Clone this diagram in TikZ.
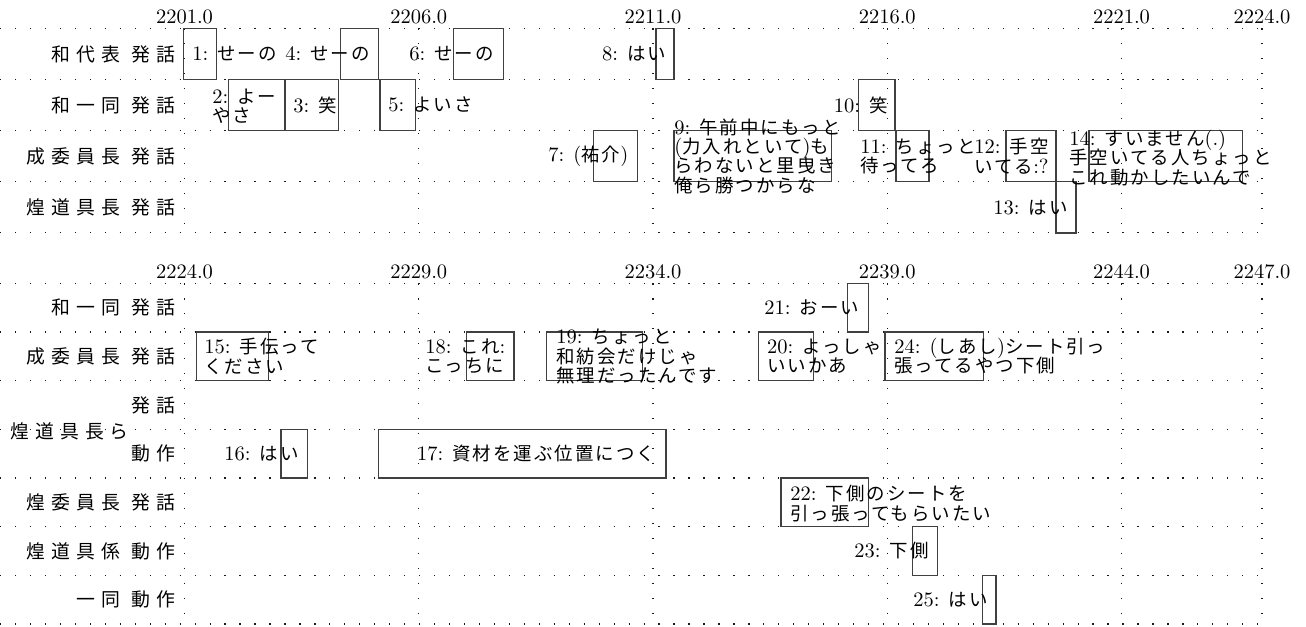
\documentclass[tikz,border=0pt]{standalone}
\usepackage{fontspec}
\newfontfamily\jp{Noto Sans CJK JP}[Scale=0.9,LetterSpace=11]
\newfontfamily\jl{Noto Sans CJK JP}[Scale=0.92,LetterSpace=32]
\newcommand\J[1]{{\jp #1}}
\newcommand\RL[2]{{\jl #1}\hspace{5.6pt}{\jl #2}}
\usetikzlibrary{fit}
\lineskiplimit=-10pt
\begin{document}
\begin{tikzpicture}[x=0.4878pt,y=-0.4878pt,
  gridline/.style={line width=0.55pt, dash pattern=on 0.6pt off 6.7pt, black!90},
  annbox/.style={draw=black!75, line width=0.6pt, inner sep=0pt},
  anntext/.style={anchor=west, inner sep=0pt, align=left, font=\fontsize{10pt}{9.5pt}\selectfont},
  rowlab/.style={anchor=east, inner sep=0pt},
  ticklab/.style={inner sep=0pt}]
\useasboundingbox (0,0) rectangle (1306,626);
\newcommand\abox[5]{\node[annbox, fit={(#2,#4)(#3,#5)}] (#1) {};}
% ---------------- top panel grid
\foreach \y in {28.3,79.45,130.6,181.75,232.9} \draw[gridline] (0,\y) -- (1262,\y);
\foreach \x in {184.5,418.75,653,887.25,1121.5,1262} \draw[gridline] (\x,28.3) -- (\x,232.9);
\node[ticklab] (ta1) at (184.5,17) {2201.0};
\node[ticklab] (ta2) at (418.75,17) {2206.0};
\node[ticklab] (ta3) at (653,17) {2211.0};
\node[ticklab] (ta4) at (887.25,17) {2216.0};
\node[ticklab] (ta5) at (1121.5,17) {2221.0};
\node[ticklab] (ta6) at (1262,17) {2224.0};
\node[rowlab] (la1) at (176,53.9) {\RL{和代表}{発話}};
\node[rowlab] (la2) at (176,105) {\RL{和一同}{発話}};
\node[rowlab] (la3) at (176,156.2) {\RL{成委員長}{発話}};
\node[rowlab] (la4) at (176,207.3) {\RL{煌道具長}{発話}};
% boxes top
\abox{b1}{183.5}{216.5}{28.3}{79.45}
\abox{b4}{340.7}{378.3}{28.3}{79.45}
\abox{b6}{453.3}{503.3}{28.3}{79.45}
\abox{b8}{656}{674}{28.3}{79.45}
\abox{b2}{228.3}{285}{79.45}{130.6}
\abox{b3}{285}{338.3}{79.45}{130.6}
\abox{b5}{380}{415.7}{79.45}{130.6}
\abox{b10}{858.3}{895}{79.45}{130.6}
\abox{b7}{593.3}{637.3}{130.6}{181.75}
\abox{b9}{674}{831.7}{130.6}{181.75}
\abox{b11}{896}{929}{130.6}{181.75}
\abox{b12}{1006}{1056}{130.6}{181.75}
\abox{b14}{1089}{1242.3}{130.6}{181.75}
\abox{b13}{1056}{1076}{181.75}{232.9}
% texts top
\node[anntext] (a1) at (192,53.9) {1: \J{せーの}};
\node[anntext] (a4) at (285,53.9) {4: \J{せーの}};
\node[anntext] (a6) at (409,53.9) {6: \J{せーの}};
\node[anntext] (a8) at (601.7,53.9) {8: \J{はい}};
\node[anntext] (a2) at (212,106) {2: \J{よー}\\\J{やさ}};
\node[anntext] (a3) at (293,105) {3: \J{笑}};
\node[anntext] (a5) at (388,105) {5: \J{よいさ}};
\node[anntext] (a10) at (833.5,105) {10: \J{笑}};
\node[anntext] (a7) at (548,156.2) {7: (\J{祐介})};
\node[anntext] (a9) at (674,156.2) {9: \J{午前中にもっと}\\(\J{力入れといて})\J{も}\\\J{らわないと里曳き}\\\J{俺ら勝つからな}};
\node[anntext] (a11) at (860,156.2) {11: \J{ちょっと}\\\J{待ってろ}};
\node[anntext] (a12) at (974,156.2) {12: \J{手空}\\\J{いてる}:?};
\node[anntext] (a14) at (1069,158) {14: \J{すいません}(.)\\\J{手空いてる人ちょっと}\\\J{これ動かしたいんで}};
\node[anntext] (a13) at (993,207.3) {13: \J{はい}};
% ---------------- bottom panel grid
\foreach \y in {283.3,331.97,380.64,429.31,477.98,526.65,575.32,624} \draw[gridline] (0,\y) -- (1262,\y);
\foreach \x in {184.5,418.75,653,887.25,1121.5,1262} \draw[gridline] (\x,283.3) -- (\x,624);
\node[ticklab] (tb1) at (184.5,271.5) {2224.0};
\node[ticklab] (tb2) at (418.75,271.5) {2229.0};
\node[ticklab] (tb3) at (653,271.5) {2234.0};
\node[ticklab] (tb4) at (887.25,271.5) {2239.0};
\node[ticklab] (tb5) at (1121.5,271.5) {2244.0};
\node[ticklab] (tb6) at (1262,271.5) {2247.0};
\node[rowlab] (lb1) at (176,307.6) {\RL{和一同}{発話}};
\node[rowlab] (lb2) at (176,356.3) {\RL{成委員長}{発話}};
\node[rowlab] (lb3) at (176,405) {{\jl 発話}};
\node[anchor=west, inner sep=0pt] (lbg) at (10,431) {{\jl 煌道具長ら}};
\node[rowlab] (lb4) at (176,453.6) {{\jl 動作}};
\node[rowlab] (lb5) at (176,502.3) {\RL{煌委員長}{発話}};
\node[rowlab] (lb6) at (176,551) {\RL{煌道具係}{動作}};
\node[rowlab] (lb7) at (176,599.7) {\RL{一同}{動作}};
% boxes bottom
\abox{b21}{847.7}{868.3}{283.3}{331.97}
\abox{b15}{196.7}{268.3}{331.97}{380.64}
\abox{b18}{466.7}{514}{331.97}{380.64}
\abox{b19}{546.7}{642.3}{331.97}{380.64}
\abox{b20}{758.3}{813.3}{331.97}{380.64}
\abox{b24}{885}{983.3}{331.97}{380.64}
\abox{b16}{281}{307.3}{429.31}{477.98}
\abox{b17}{378.3}{666}{429.31}{477.98}
\abox{b22}{781}{868.3}{477.98}{526.65}
\abox{b23}{912.3}{937.3}{526.65}{575.32}
\abox{b25}{982.7}{996}{575.32}{624}
% texts bottom
\node[anntext] (a21) at (764,307.6) {21: \J{おーい}};
\node[anntext] (a15) at (204,356.3) {15: \J{手伝って}\\\J{ください}};
\node[anntext] (a18) at (425,356.3) {18: \J{これ}:\\\J{こっちに}};
\node[anntext] (a19) at (556,356.7) {19: \J{ちょっと}\\\J{和紡会だけじゃ}\\\J{無理だったんです}};
\node[anntext] (a20) at (766.7,356.3) {20: \J{よっしゃ}\\\J{いいかあ}};
\node[anntext] (a24) at (894,356.3) {24: (\J{しあし})\J{シート引っ}\\\J{張ってるやつ下側}};
\node[anntext] (a16) at (224,453.6) {16: \J{はい}};
\node[anntext] (a17) at (416.7,453.6) {17: \J{資材を運ぶ位置につく}};
\node[anntext] (a22) at (790,503.3) {22: \J{下側のシートを}\\\J{引っ張ってもらいたい}};
\node[anntext] (a23) at (854,551) {23: \J{下側}};
\node[anntext] (a25) at (913,599.7) {25: \J{はい}};
\end{tikzpicture}
\end{document}
